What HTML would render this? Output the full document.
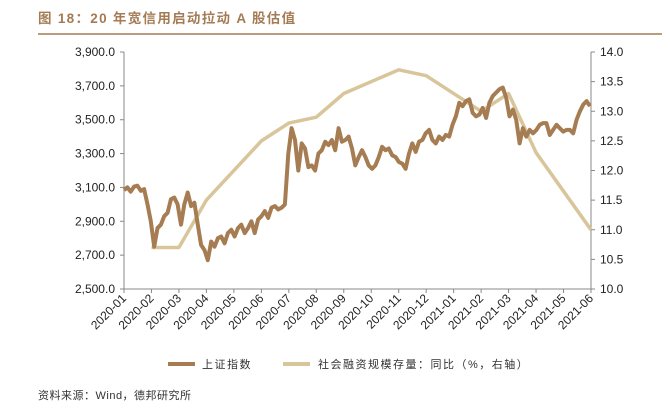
<!DOCTYPE html>
<html><head><meta charset="utf-8"><style>
body{margin:0;background:#fff;width:670px;height:413px;overflow:hidden;font-family:"Liberation Sans","Noto Sans CJK SC",sans-serif}
</style></head><body>
<svg width="670" height="413" xmlns="http://www.w3.org/2000/svg">
<text x="38" y="23" font-size="13.5" font-weight="bold" letter-spacing="1.3" fill="#a47b55" font-family="Liberation Sans,Noto Sans CJK SC,sans-serif">图 18：20 年宽信用启动拉动 A 股估值</text>
<line x1="38" y1="34" x2="662" y2="34" stroke="#a47b55" stroke-width="1.5"/>
<g id="axes"></g>
<g id="series"></g>
<g>
<line x1="168" y1="364" x2="195" y2="364" stroke="#a67c52" stroke-width="4"/>
<text x="202" y="368" font-size="11" letter-spacing="1.5" fill="#333">上证指数</text>
<line x1="283" y1="364" x2="310" y2="364" stroke="#d9c59a" stroke-width="4"/>
<text x="318" y="368" font-size="11" letter-spacing="1.5" fill="#333">社会融资规模存量：同比（%，右轴）</text>
</g>
<text x="38" y="399" font-size="11" letter-spacing="0.5" fill="#333">资料来源：Wind，德邦研究所</text>
</svg>
<script>
const months=["2020-01","2020-02","2020-03","2020-04","2020-05","2020-06","2020-07","2020-08","2020-09","2020-10","2020-11","2020-12","2021-01","2021-02","2021-03","2021-04","2021-05","2021-06"];
const leftTicks=[2500,2700,2900,3100,3300,3500,3700,3900];
const rightTicks=[10,10.5,11,11.5,12,12.5,13,13.5,14];
const indexValues=[3085,3100,3075,3105,3110,3080,3090,3000,2900,2750,2860,2880,2930,2950,3030,3040,3000,2880,3000,3070,2990,3010,2880,2760,2730,2670,2780,2750,2800,2810,2770,2830,2850,2810,2860,2880,2830,2860,2900,2830,2910,2930,2960,2920,2980,2990,2970,2980,3000,3300,3450,3380,3200,3360,3330,3220,3230,3200,3300,3320,3370,3350,3380,3320,3450,3370,3380,3400,3330,3230,3280,3320,3280,3230,3210,3230,3280,3340,3320,3330,3290,3280,3250,3240,3210,3300,3360,3310,3370,3380,3420,3440,3380,3360,3400,3380,3410,3400,3470,3520,3600,3580,3610,3620,3540,3520,3530,3570,3510,3600,3640,3660,3680,3690,3630,3520,3560,3500,3360,3450,3400,3440,3420,3440,3470,3480,3480,3410,3440,3470,3450,3430,3440,3440,3420,3500,3550,3590,3610,3580];
const creditMonths=[1,2,3,5,6,7,8,10,11,13,14,15,16,17];
const creditValues=[10.7,10.7,11.5,12.5,12.8,12.9,13.3,13.7,13.6,13.0,13.3,12.3,11.65,11.0];
const NS="http://www.w3.org/2000/svg";
const L=124,R=591,T=52,B=289;
const xM=m=>L+(R-L)*m/(months.length-1);
const yL=v=>B-(v-2500)/(3900-2500)*(B-T);
const yR=v=>B-(v-10)/(14-10)*(B-T);
function mk(tag,attrs,parent,text){const e=document.createElementNS(NS,tag);for(const k in attrs)e.setAttribute(k,attrs[k]);if(text!==undefined)e.textContent=text;parent.appendChild(e);return e;}
const ax=document.getElementById('axes'),se=document.getElementById('series');
let e;
e=mk('line',{x1:L,y1:T,x2:L,y2:B,stroke:'#888'},ax);


e=mk('line',{x1:R,y1:T,x2:R,y2:B,stroke:'#888'},ax);


e=mk('line',{x1:L,y1:B,x2:R,y2:B,stroke:'#888'},ax);


leftTicks.forEach(v=>{const y=yL(v);
mk('line',{x1:L-4,y1:y,x2:L,y2:y,stroke:'#888'},ax);
e=mk('text',{x:L-9,y:y+4,'font-size':12,'text-anchor':'end',fill:'#222'},ax,v.toLocaleString('en-US',{minimumFractionDigits:1}));

});
rightTicks.forEach(v=>{const y=yR(v);
mk('line',{x1:R,y1:y,x2:R+4,y2:y,stroke:'#888'},ax);
e=mk('text',{x:R+9,y:y+4,'font-size':12,fill:'#222'},ax,v.toFixed(1));

});
months.forEach((m,i)=>{const x=xM(i);
mk('line',{x1:x,y1:B,x2:x,y2:B+4,stroke:'#888'},ax);
e=mk('text',{x:x+3,y:B+10,'font-size':12,'text-anchor':'end',fill:'#222',transform:`rotate(-45 ${x+3} ${B+10})`},ax,m);

});
const n=indexValues.length;
const ip=indexValues.map((v,i)=>`${(L+(R-1-L)*i/(n-1)).toFixed(1)},${yL(v).toFixed(1)}`).join(' ');
const cp=creditValues.map((v,i)=>`${xM(creditMonths[i]).toFixed(1)},${yR(v).toFixed(1)}`).join(' ');
e=mk('polyline',{points:cp,fill:'none',stroke:'#d9c59a','stroke-width':3.5,'stroke-linejoin':'round'},se);


e=mk('polyline',{points:ip,fill:'none',stroke:'#a67c52','stroke-width':4,'stroke-linejoin':'round'},se);


</script>
</body></html>
